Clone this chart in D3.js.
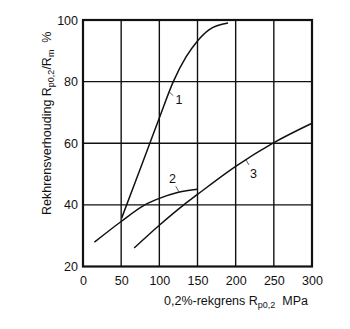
<!DOCTYPE html>
<html>
<head>
<meta charset="utf-8">
<script src="https://cdn.jsdelivr.net/npm/d3@7"></script>
<style>
  html, body { margin: 0; padding: 0; background: #fff; }
  svg text { font-family: "Liberation Sans", Arial, sans-serif; fill: #111; }
</style>
</head>
<body>
<svg id="chart" width="350" height="329"></svg>
<script>
// Axis ticks
const xTicks = [0, 50, 100, 150, 200, 250, 300];
const yTicks = [20, 40, 60, 80, 100];

// Curve 1
const curve1X = [50.6, 68, 85, 100, 118.3, 135, 150, 165, 190];
const curve1Y = [35.7, 47.1, 58.3, 68.2, 80, 88, 93.2, 96.8, 99];
// Curve 2
const curve2X = [15, 50, 81, 100, 125, 150];
const curve2Y = [27.9, 34.6, 40, 42.1, 44.1, 45.1];
// Curve 3
const curve3X = [67, 100, 132, 150, 200, 250, 300];
const curve3Y = [26, 33.4, 40, 43.4, 52.5, 60.2, 66.5];

// Curve labels and the point on each curve their leader starts from
const labelNames = ["1", "2", "3"];
const labelAt = [[113, 76.6], [125.8, 44.2], [213.5, 54.6]];
// [leader end dx, leader end dy, text dx, text baseline dy] in pixels
const labelOffsets = [[4, 3.5, 9.7, 12], [-3.3, -5.7, -6.5, -9], [3, 5, 7.5, 18]];

const svg = d3.select("#chart");
const m = { left: 83, right: 312, top: 20, bottom: 266.5 };

const x = d3.scaleLinear().domain([0, 300]).range([m.left, m.right]);
const y = d3.scaleLinear().domain([20, 100]).range([m.bottom, m.top]);

// Grid lines
const grid = svg.append("g").attr("stroke", "#111").attr("stroke-width", 1.4);
grid.selectAll("line.v").data(xTicks.slice(1, -1)).join("line")
  .attr("x1", d => x(d)).attr("x2", d => x(d))
  .attr("y1", m.top).attr("y2", m.bottom);
grid.selectAll("line.h").data(yTicks.slice(1, -1)).join("line")
  .attr("x1", m.left).attr("x2", m.right)
  .attr("y1", d => y(d)).attr("y2", d => y(d));

// Frame
svg.append("rect")
  .attr("x", m.left).attr("y", m.top)
  .attr("width", m.right - m.left).attr("height", m.bottom - m.top)
  .attr("fill", "none").attr("stroke", "#111").attr("stroke-width", 2.2);

// Axes (labels only)
const xAxis = d3.axisBottom(x).tickValues(xTicks).tickSize(0).tickPadding(10);
svg.append("g").attr("transform", `translate(0,${m.bottom})`).call(xAxis)
  .call(g => g.select(".domain").remove())
  .selectAll("text").attr("font-size", 12.5).attr("font-family", "Liberation Sans, Arial, sans-serif").attr("fill", "#111");

const yAxis = d3.axisLeft(y).tickValues(yTicks).tickSize(0).tickPadding(5);
svg.append("g").attr("transform", `translate(${m.left},0)`).call(yAxis)
  .call(g => g.select(".domain").remove())
  .selectAll("text").attr("font-size", 12.5).attr("font-family", "Liberation Sans, Arial, sans-serif").attr("fill", "#111");

// Curves
const line = d3.line().x(d => x(d[0])).y(d => y(d[1])).curve(d3.curveMonotoneX);
const series = [
  d3.zip(curve1X, curve1Y),
  d3.zip(curve2X, curve2Y),
  d3.zip(curve3X, curve3Y)
];
svg.append("g").selectAll("path").data(series).join("path")
  .attr("d", line).attr("fill", "none").attr("stroke", "#111").attr("stroke-width", 1.5);

// Curve labels with leaders
labelNames.forEach((name, i) => {
  const px = x(labelAt[i][0]), py = y(labelAt[i][1]);
  const o = labelOffsets[i];
  svg.append("line")
    .attr("x1", px).attr("y1", py)
    .attr("x2", px + o[0]).attr("y2", py + o[1])
    .attr("stroke", "#333").attr("stroke-width", 0.8);
  svg.append("text").attr("x", px + o[2]).attr("y", py + o[3])
    .attr("text-anchor", "middle").attr("font-size", 12.5).text(name);
});

// X axis title
const xt = svg.append("text").attr("x", 164).attr("y", 305).attr("font-size", 12.5);
xt.append("tspan").text("0,2%-rekgrens R");
xt.append("tspan").attr("font-size", 9).attr("dy", 3).text("p0,2");
xt.append("tspan").attr("dy", -3).text("\u00a0\u00a0MPa");

// Y axis title
const yt = svg.append("text")
  .attr("transform", "translate(51,215) rotate(-90)")
  .attr("font-size", 12.5);
yt.append("tspan").text("Rekhrensverhouding R");
yt.append("tspan").attr("font-size", 9).attr("dy", 3).text("p0,2");
yt.append("tspan").attr("dy", -3).text("/R");
yt.append("tspan").attr("font-size", 9).attr("dy", 3).text("m");
yt.append("tspan").attr("dy", -3).text("\u00a0\u00a0%");
</script>
</body>
</html>
